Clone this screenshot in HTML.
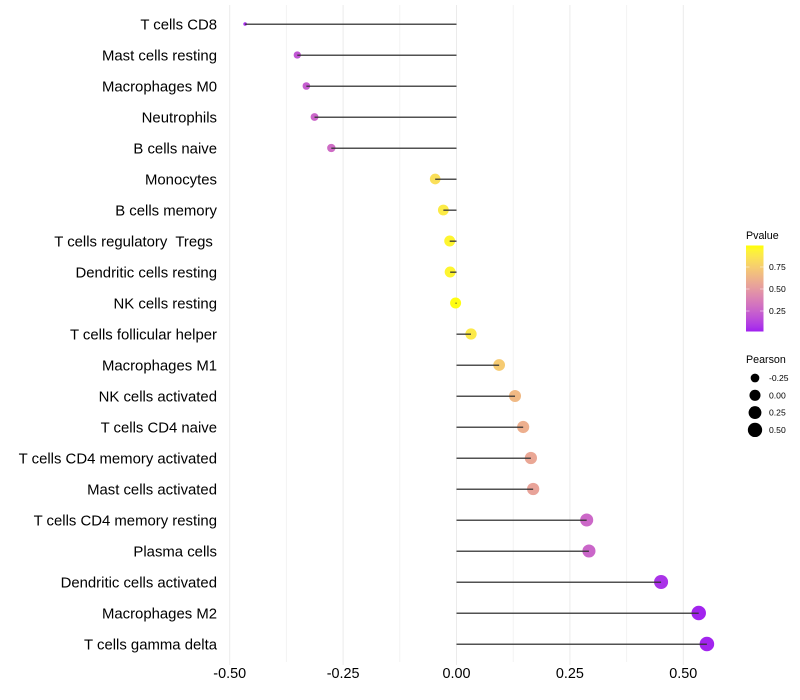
<!DOCTYPE html>
<html>
<head>
<meta charset="utf-8">
<title>Lollipop chart</title>
<style>
html,body{margin:0;padding:0;background:#fff;}
svg{display:block;font-family:"Liberation Sans",sans-serif;}
text{white-space:pre;}
</style>
</head>
<body>
<svg id="chart" width="800" height="700" viewBox="0 0 800 700" xmlns="http://www.w3.org/2000/svg"></svg>
<script>
const categories = ["T cells CD8","Mast cells resting","Macrophages M0","Neutrophils","B cells naive","Monocytes","B cells memory","T cells regulatory  Tregs ","Dendritic cells resting","NK cells resting","T cells follicular helper","Macrophages M1","NK cells activated","T cells CD4 naive","T cells CD4 memory activated","Mast cells activated","T cells CD4 memory resting","Plasma cells","Dendritic cells activated","Macrophages M2","T cells gamma delta"];
const pearson = [-0.466,-0.351,-0.331,-0.313,-0.276,-0.047,-0.029,-0.015,-0.014,-0.002,0.032,0.094,0.129,0.147,0.164,0.169,0.287,0.292,0.451,0.534,0.552];
const pvalues = [0.03,0.18,0.21,0.25,0.28,0.84,0.90,0.95,0.95,0.99,0.89,0.74,0.65,0.60,0.56,0.54,0.26,0.25,0.05,0.01,0.01];
const xMajorTicks = [-0.5,-0.25,0,0.25,0.5];
const xMajorLabels = ["-0.50","-0.25","0.00","0.25","0.50"];
const xMinorTicks = [-0.375,-0.125,0.125,0.375];
const pvalueTicks = [0.25,0.5,0.75];
const pvalueLabels = ["0.25","0.50","0.75"];
const pearsonLegendValues = [-0.25,0,0.25,0.5];
const pearsonLegendLabels = ["-0.25","0.00","0.25","0.50"];

const NS = "http://www.w3.org/2000/svg";
const svg = document.getElementById("chart");

function xScale(v){ return 456.5 + v * 453.6; }
function yScale(i){ return 24 + i * 31; }
function sizeScale(v){
  const lo = Math.min(...pearson), hi = Math.max(...pearson);
  return 1.8 + 5.5 * Math.sqrt((v - lo) / (hi - lo));
}
function pLegendY(p){ return 333 - p * 88; }

function toLab(c){
  let r=c[0]/255,g=c[1]/255,b=c[2]/255;
  const f=u=>u>0.04045?Math.pow((u+0.055)/1.055,2.4):u/12.92;
  r=f(r);g=f(g);b=f(b);
  const X=(0.4124*r+0.3576*g+0.1805*b)/0.95047,Y=0.2126*r+0.7152*g+0.0722*b,Z=(0.0193*r+0.1192*g+0.9505*b)/1.08883;
  const h=t=>t>0.008856?Math.cbrt(t):7.787*t+16/116;
  return [116*h(Y)-16,500*(h(X)-h(Y)),200*(h(Y)-h(Z))];
}
function fromLab(l){
  const fy=(l[0]+16)/116,fx=fy+l[1]/500,fz=fy-l[2]/200;
  const h=t=>t*t*t>0.008856?t*t*t:(t-16/116)/7.787;
  const X=h(fx)*0.95047,Y=h(fy),Z=h(fz)*1.08883;
  const lin=[3.2406*X-1.5372*Y-0.4986*Z,-0.9689*X+1.8758*Y+0.0415*Z,0.0557*X-0.2040*Y+1.0570*Z];
  const g=u=>{u=Math.max(0,Math.min(1,u));return u>0.0031308?1.055*Math.pow(u,1/2.4)-0.055:12.92*u;};
  return "rgb("+lin.map(u=>Math.round(g(u)*255)).join(",")+")";
}
const labLow = toLab([160,32,240]);
const labHigh = toLab([255,255,0]);
function colorScale(p){
  const t = Math.max(0, Math.min(1, p));
  return fromLab([0,1,2].map(k=>labLow[k]+(labHigh[k]-labLow[k])*t));
}
function mk(tag, attrs, parent){
  const el = document.createElementNS(NS, tag);
  for (const k in attrs) el.setAttribute(k, attrs[k]);
  (parent || svg).appendChild(el);
  return el;
}

/* grid */
xMinorTicks.forEach(v => {
  const l = mk("line",{x1:xScale(v),x2:xScale(v),y1:5,y2:662,stroke:"#f3f3f3","stroke-width":1});
  
  
});
xMajorTicks.forEach((v,i) => {
  const l = mk("line",{x1:xScale(v),x2:xScale(v),y1:5,y2:665,stroke:"#ebebeb","stroke-width":1});
  
  
  const t = mk("text",{x:xScale(v),y:678,"text-anchor":"middle","font-size":14.4,fill:"#000"});
  t.textContent = xMajorLabels[i];
  
  
});

/* category labels */
categories.forEach((c,i) => {
  const t = mk("text",{x:217,y:yScale(i)+5.3,"text-anchor":"end","font-size":14.9,fill:"#000"});
  t.textContent = c;
  
  
});

/* points */
categories.forEach((c,i) => {
  const p = mk("circle",{cx:xScale(pearson[i]),cy:yScale(i),r:sizeScale(pearson[i]),fill:colorScale(pvalues[i])});
  
  
});

/* segments */
categories.forEach((c,i) => {
  const s = mk("line",{x1:xScale(0),x2:xScale(pearson[i]),y1:yScale(i)+0.2,y2:yScale(i)+0.2,stroke:"#333","stroke-width":1.5,"stroke-opacity":0.85});
  
  
});

/* Pvalue legend */
const defs = mk("defs",{});
const grad = mk("linearGradient",{id:"pgrad",x1:0,y1:1,x2:0,y2:0},defs);
for (let k=0;k<=20;k++){
  mk("stop",{offset:(k/20),"stop-color":colorScale(k/20)},grad);
}
const pTitle = mk("text",{x:746,y:239,"font-size":10.7,fill:"#000"});
pTitle.textContent = "Pvalue";


const bar = mk("rect",{x:746,y:245.5,width:17.5,height:86,fill:"url(#pgrad)"});


pvalueTicks.forEach((p,i) => {
  const y = pLegendY(p);
  const a = mk("line",{x1:746,x2:749.5,y1:y,y2:y,stroke:"#fff","stroke-opacity":0.6,"stroke-width":0.8});
  
  
  const b = mk("line",{x1:760,x2:763.5,y1:y,y2:y,stroke:"#fff","stroke-opacity":0.6,"stroke-width":0.8});
  
  
  const t = mk("text",{x:769,y:y+3,"font-size":8.6,fill:"#000"});
  t.textContent = pvalueLabels[i];
  
  
});

/* Pearson legend */
const sTitle = mk("text",{x:746,y:363,"font-size":10.7,fill:"#000"});
sTitle.textContent = "Pearson";


pearsonLegendValues.forEach((v,i) => {
  const y = 378 + i * 17.3;
  const c = mk("circle",{cx:755,cy:y,r:sizeScale(v),fill:"#000"});
  
  
  const t = mk("text",{x:769,y:y+3,"font-size":8.6,fill:"#000"});
  t.textContent = pearsonLegendLabels[i];
  
  
});
</script>
</body>
</html>
